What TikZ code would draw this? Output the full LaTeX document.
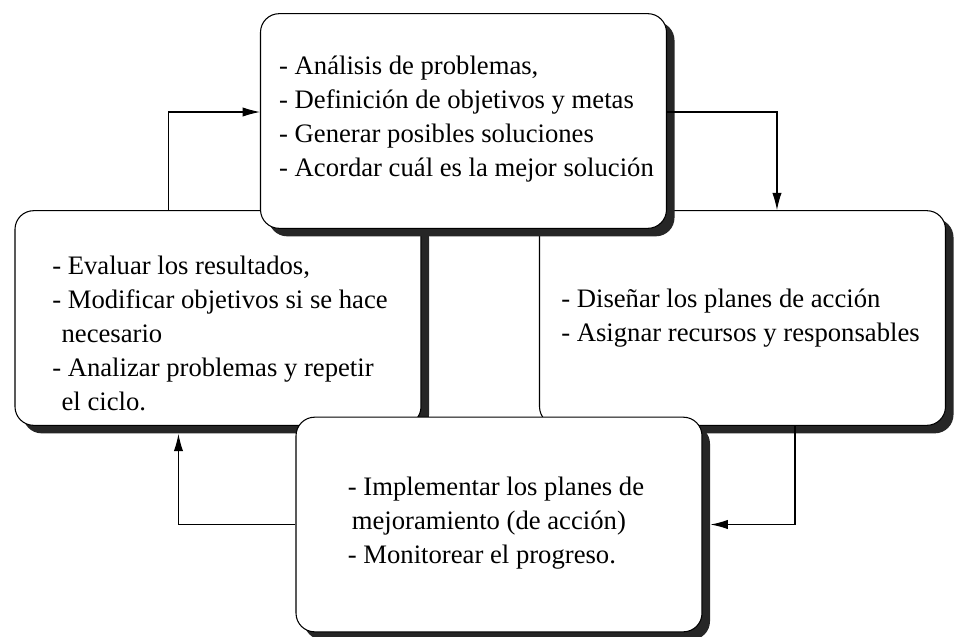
\documentclass[tikz,border=0pt]{standalone}
\usepackage{fontspec}
\setmainfont{Liberation Serif}
\usetikzlibrary{shadows,arrows.meta}

\begin{document}
\begin{tikzpicture}[x=0.75pt,y=-0.75pt,
    caja/.style={draw=black,line width=0.8pt,fill=white,rounded corners=14pt,
        minimum width=304.5pt,minimum height=161pt,inner sep=0pt,
        drop shadow={shadow xshift=6pt,shadow yshift=-6pt,fill=black!85,opacity=1}},
    texto/.style={align=left,inner sep=0pt,font=\fontsize{20}{25.5}\selectfont},
    flecha/.style={-{Latex[length=13pt,width=7pt]},line width=0.8pt}]
    \useasboundingbox (0,0) rectangle (955,636);

    % cajas
    \node[caja] (evaluar) at (218,318) {};
    \node[caja] (disenar) at (742.5,318) {};
    \node[caja] (analisis) at (463.5,121) {};
    \node[caja] (implementar) at (499,524.5) {};

    % textos
    \node[texto] (t-analisis) at ([shift={(3,-2)}]analisis.center)
        {- Análisis de problemas,\\- Definición de objetivos y metas\\- Generar posibles soluciones\\- Acordar cuál es la mejor solución};
    \node[texto] (t-evaluar) at ([shift={(2,15)}]evaluar.center)
        {- Evaluar los resultados,\\- Modificar objetivos si se hace\\\hspace*{7pt}necesario\\- Analizar problemas y repetir\\\hspace*{7pt}el ciclo.};
    \node[texto] (t-disenar) at ([shift={(-2,0)}]disenar.center)
        {- Diseñar los planes de acción\\- Asignar recursos y responsables};
    \node[texto] (t-implementar) at ([shift={(-3,-1)}]implementar.center)
        {- Implementar los planes de\\\hspace*{3pt}mejoramiento (de acción)\\- Monitorear el progreso.};

    % flechas
    \draw[flecha] ([xshift=115.5pt]evaluar.north west) |- ([yshift=6.75pt]analisis.west);
    \draw[flecha] ([yshift=6.75pt]analisis.east) -| ([xshift=178.5pt]disenar.north west);
    \draw[flecha] ([xshift=192pt]disenar.south west) |- ([xshift=6pt]implementar.east);
    \draw[flecha] (implementar.west) -| ([xshift=123pt,yshift=-6pt]evaluar.south west);
\end{tikzpicture}
\end{document}
